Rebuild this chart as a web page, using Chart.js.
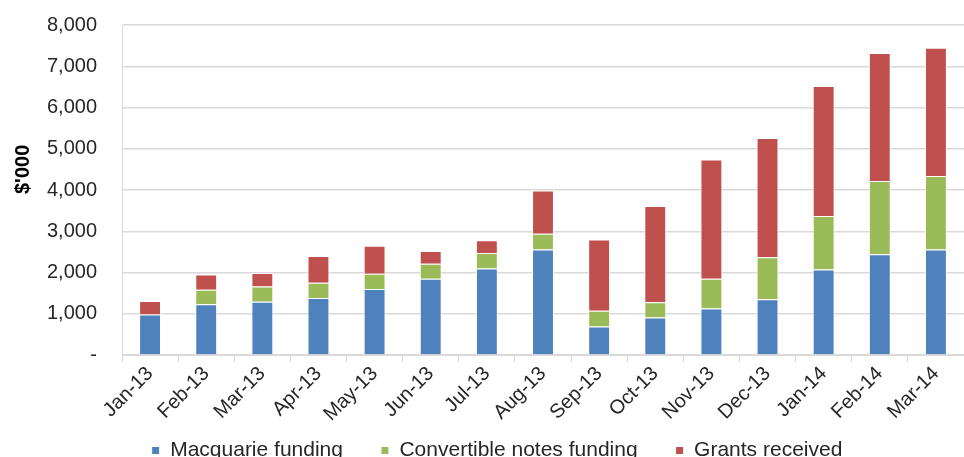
<!DOCTYPE html>
<html>
<head>
<meta charset="utf-8">
<script src="https://cdn.jsdelivr.net/npm/chart.js@4/dist/chart.umd.min.js"></script>
<style>
  html, body { margin: 0; padding: 0; background: #fff; overflow: hidden; }
  #wrap { width: 964px; height: 457px; overflow: hidden; }
</style>
</head>
<body>
<div id="wrap"><canvas id="fundingChart" width="964" height="471"></canvas></div>
<script>
// Monthly funding, $'000
var months = ['Jan-13', 'Feb-13', 'Mar-13', 'Apr-13', 'May-13', 'Jun-13', 'Jul-13', 'Aug-13',
              'Sep-13', 'Oct-13', 'Nov-13', 'Dec-13', 'Jan-14', 'Feb-14', 'Mar-14'];
var macquarie   = [980, 1230, 1290, 1380, 1600, 1850, 2100, 2560, 690, 910, 1130, 1350, 2070, 2440, 2560];
var convertible = [0, 350, 370, 370, 370, 360, 370, 380, 380, 370, 720, 1020, 1300, 1780, 1780];
var grants      = [330, 370, 330, 650, 680, 310, 310, 1050, 1730, 2330, 2890, 2890, 3150, 3100, 3110];

var yTicks = [0, 1000, 2000, 3000, 4000, 5000, 6000, 7000, 8000];

Chart.defaults.font.family = "'Liberation Sans', Arial, sans-serif";
Chart.defaults.color = '#404040';

// y axis caption, drawn a little above the middle of the axis
var yCaption = {
    id: 'yCaption',
    afterDraw: function (chart) {
        var c = chart.ctx;
        var y = chart.scales.y;
        c.save();
        c.translate(23, y.getPixelForValue(4500));
        c.rotate(-Math.PI / 2);
        c.font = "bold 20px 'Liberation Sans', Arial, sans-serif";
        c.fillStyle = '#000000';
        c.textAlign = 'center';
        c.textBaseline = 'middle';
        c.fillText("$'000", 0, 0);
        c.restore();
    }
};

var ctx = document.getElementById('fundingChart').getContext('2d');
new Chart(ctx, {
    type: 'bar',
    data: {
        labels: months,
        datasets: [{
            label: 'Macquarie funding',
            data: macquarie,
            backgroundColor: '#4F81BD',
            borderColor: '#ffffff',
            borderWidth: 1
        }, {
            label: 'Convertible notes funding',
            data: convertible,
            backgroundColor: '#9BBB59',
            borderColor: '#ffffff',
            borderWidth: 1
        }, {
            label: 'Grants received',
            data: grants,
            backgroundColor: '#C0504D',
            borderColor: '#ffffff',
            borderWidth: 1
        }]
    },
    options: {
        responsive: false,
        animation: false,
        // left padding pushes the legend centre right; the y axis box is narrowed to match
        layout: { padding: { top: 25, right: 0, left: 30, bottom: 0 } },
        datasets: { bar: { categoryPercentage: 1, barPercentage: 0.39 } },
        plugins: {
            tooltip: { enabled: false },
            legend: {
                position: 'bottom',
                labels: {
                    font: { size: 21 },
                    color: '#262626',
                    boxWidth: 8,
                    boxHeight: 8,
                    padding: 38
                }
            }
        },
        scales: {
            x: {
                stacked: true,
                grid: { display: true, offset: true, drawOnChartArea: false, color: '#d9d9d9', tickLength: 7 },
                border: { color: '#d9d9d9' },
                ticks: { font: { size: 20 }, minRotation: 45, maxRotation: 45, padding: 0, color: '#262626' },
                afterFit: function (scale) {
                    scale.height = 47;
                    // let the rotated month labels run past the axis box
                    scale._computeLabelArea = function () { return undefined; };
                }
            },
            y: {
                stacked: true,
                min: 0,
                max: 8000,
                afterBuildTicks: function (scale) {
                    scale.ticks = yTicks.map(function (v) { return { value: v }; });
                },
                grid: { color: '#d9d9d9', lineWidth: 1.5, drawTicks: false },
                border: { color: '#d9d9d9' },
                ticks: {
                    font: { size: 20 },
                    color: '#262626',
                    padding: 25,
                    callback: function (v) { return v === 0 ? '-' : v.toLocaleString('en-US'); }
                },
                afterFit: function (scale) {
                    scale.width = 92;
                    scale.paddingTop = 0;
                    scale.paddingBottom = 0;
                }
            }
        }
    },
    plugins: [yCaption]
});
</script>
</body>
</html>
